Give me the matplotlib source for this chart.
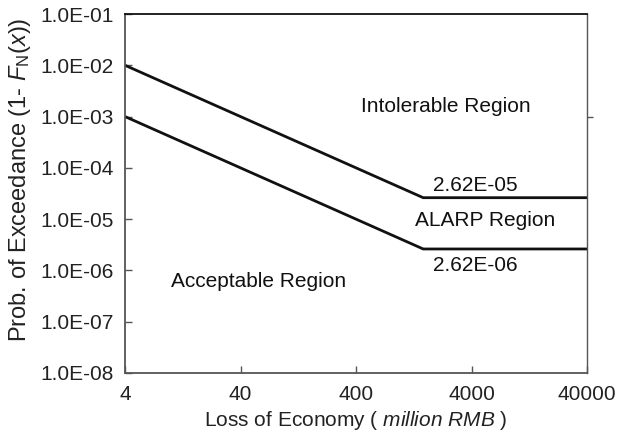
import matplotlib
matplotlib.use("Agg")
import matplotlib.pyplot as plt
from matplotlib.ticker import FixedLocator, FixedFormatter, NullLocator, NullFormatter

plt.rcParams['font.family'] = ['Liberation Sans', 'DejaVu Sans']
plt.rcParams['mathtext.fontset'] = 'custom'
plt.rcParams['mathtext.rm'] = 'Liberation Sans'
plt.rcParams['mathtext.it'] = 'Liberation Sans:italic'

# Data
upper_x = [4, 1527, 40000]
upper_y = [1.0e-2, 2.62e-5, 2.62e-5]
lower_x = [4, 1527, 40000]
lower_y = [1.0e-3, 2.62e-6, 2.62e-6]

x_ticks = [4, 40, 400, 4000, 40000]
x_ticklabels = ["4", "40", "400", "4000", "40000"]
y_ticks = [1e-8, 1e-7, 1e-6, 1e-5, 1e-4, 1e-3, 1e-2, 1e-1]
y_ticklabels = ["1.0E-08", "1.0E-07", "1.0E-06", "1.0E-05", "1.0E-04",
                "1.0E-03", "1.0E-02", "1.0E-01"]

W, H = 626, 432
fig = plt.figure(figsize=(W/100, H/100), dpi=100)
ax = fig.add_axes([125/W, 1-373/H, (587-125)/W, (373-14)/H])

ax.plot(upper_x, upper_y, color='#111111', lw=2.0, solid_joinstyle='miter')
ax.plot(lower_x, lower_y, color='#111111', lw=2.0, solid_joinstyle='miter')

ax.set_xscale('log')
ax.set_yscale('log')
ax.set_xlim(4, 40000)
ax.set_ylim(1e-8, 1e-1)

ax.xaxis.set_major_locator(FixedLocator(x_ticks))
ax.xaxis.set_major_formatter(FixedFormatter(x_ticklabels))
ax.xaxis.set_minor_locator(NullLocator())
ax.yaxis.set_major_locator(FixedLocator(y_ticks))
ax.yaxis.set_major_formatter(FixedFormatter(y_ticklabels))
ax.yaxis.set_minor_locator(NullLocator())

ax.tick_params(axis='both', direction='in', length=5, width=1.0, color='#555555',
               labelsize=15, labelcolor='#222222', pad=8)
ax.tick_params(axis='x', pad=9)

for s in ['left', 'bottom']:
    ax.spines[s].set_color('#555555')
    ax.spines[s].set_linewidth(1.3)
ax.spines['top'].set_color('#111111')
ax.spines['top'].set_linewidth(1.3)
ax.spines['right'].set_color('#555555')
ax.spines['right'].set_linewidth(1.0)

# small outward tick on the right spine at 1E-03
axr = ax.twinx()
axr.set_yscale('log')
axr.set_ylim(1e-8, 1e-1)
axr.yaxis.set_major_locator(FixedLocator([1e-3]))
axr.yaxis.set_major_formatter(NullFormatter())
axr.yaxis.set_minor_locator(NullLocator())
axr.tick_params(axis='y', direction='out', length=4, width=1.0, color='#555555')
for s in axr.spines.values():
    s.set_visible(False)

ax.set_ylabel(r'Prob. of Exceedance (1- $\mathit{F}_{\mathrm{N}}$($\mathit{x}$))',
              fontsize=17, color='#222222')
ax.yaxis.set_label_coords(-(125-33)/(587-125), (373-180)/(373-14))
ax.set_xlabel(r'Loss of Economy ( $\mathit{million\ RMB}$ )',
              fontsize=15, color='#222222', labelpad=3)

txt_kw = dict(fontsize=15, color='#111111', ha='center', va='center')
ax.text(2400, 1.55e-3, 'Intolerable Region', **txt_kw)
ax.text(4300, 4.6e-5, '2.62E-05', **txt_kw)
ax.text(5200, 9.5e-6, 'ALARP Region', **txt_kw)
ax.text(4300, 1.23e-6, '2.62E-06', **txt_kw)
ax.text(57, 6.2e-7, 'Acceptable Region', **txt_kw)

fig.savefig('out.png', dpi=100)
